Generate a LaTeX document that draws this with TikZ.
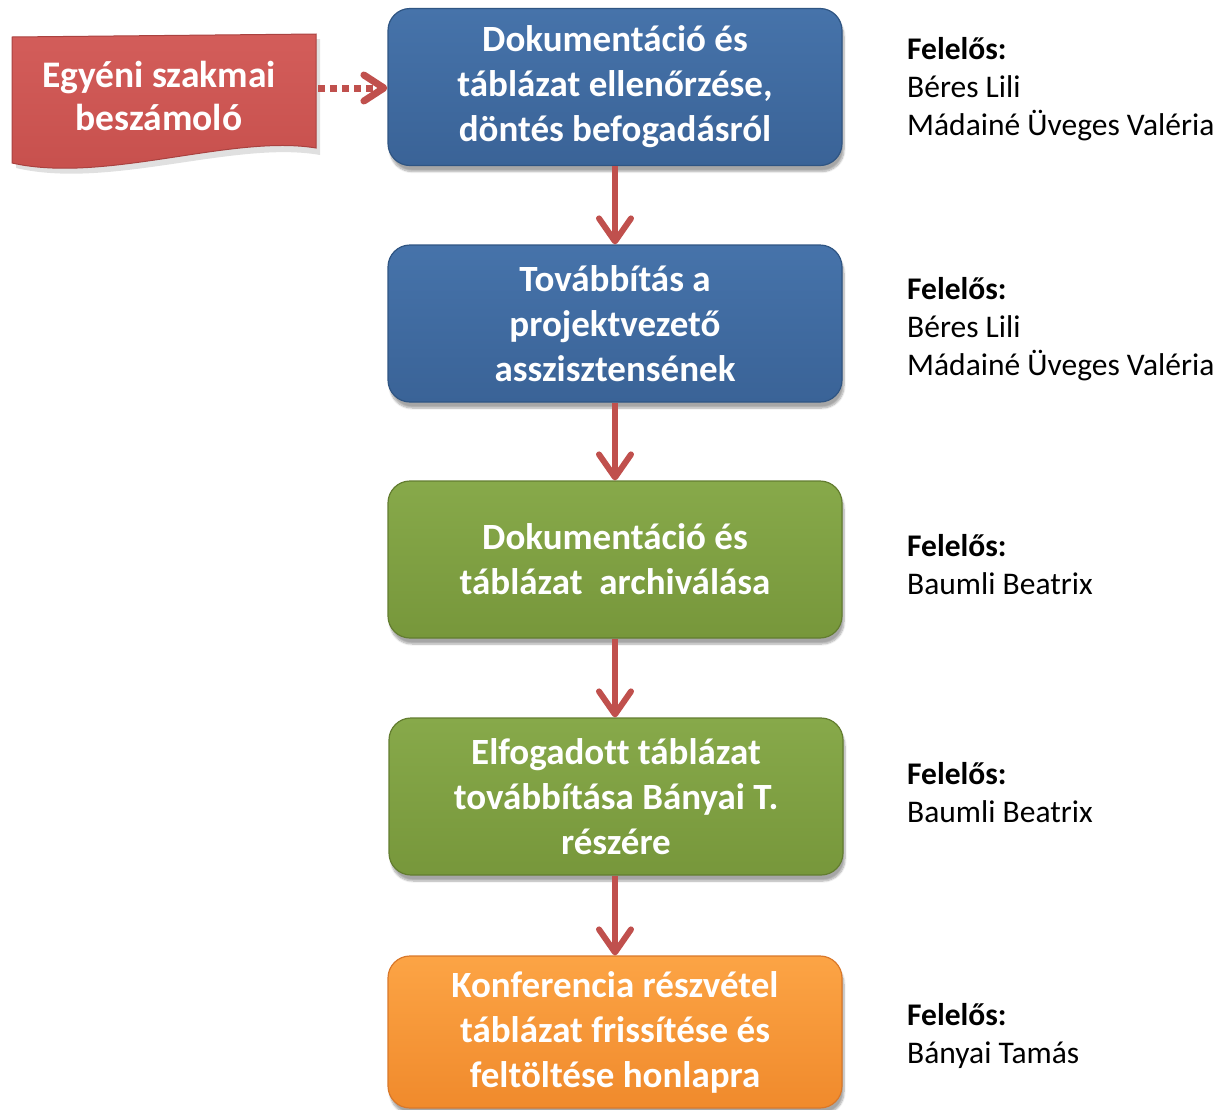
\documentclass[tikz,border=0pt]{standalone}
\usepackage{fontspec}
\setmainfont{Carlito}[Ligatures=CommonOff]
\usetikzlibrary{arrows.meta,shadows,shadows.blur}
\definecolor{blueT}{HTML}{4673AA}
\definecolor{blueB}{HTML}{3A6397}
\definecolor{blueD}{HTML}{2F5583}
\definecolor{greenT}{HTML}{87A94A}
\definecolor{greenB}{HTML}{77973B}
\definecolor{greenD}{HTML}{637D30}
\definecolor{orT}{HTML}{FCA445}
\definecolor{orB}{HTML}{F08A2C}
\definecolor{orD}{HTML}{D9782A}
\definecolor{redT}{HTML}{D35D5A}
\definecolor{redB}{HTML}{C64F4C}
\definecolor{redD}{HTML}{A94240}
\definecolor{arrowred}{HTML}{C0504D}
\tikzset{
  stepbox/.style={rounded corners=22pt, minimum width=454pt, minimum height=157pt,
    align=center, text=white, line width=1.2pt,
    font=\fontsize{37}{45}\selectfont\bfseries,
    execute at begin node={\rule{0pt}{35pt}},
    blur shadow={shadow xshift=2pt, shadow yshift=-6pt, shadow blur steps=8, shadow opacity=35}},
  bluebox/.style={stepbox, draw=blueD, top color=blueT, bottom color=blueB},
  greenbox/.style={stepbox, draw=greenD, top color=greenT, bottom color=greenB},
  orangebox/.style={stepbox, draw=orD, top color=orT, bottom color=orB},
  resp/.style={anchor=north west, align=left, inner sep=0pt, font=\fontsize{31.5}{38}\selectfont},
  flow/.style={draw=arrowred, line width=6pt, -{Straight Barb[length=23pt,width=32pt,round]}},
  dotflow/.style={draw=arrowred, line width=7pt, dash pattern=on 7pt off 5pt,
    -{Straight Barb[length=20pt,width=26pt,round]}},
}
\begin{document}
\begin{tikzpicture}[x=1pt,y=-1pt]
\useasboundingbox (0,0) rectangle (1221,1109);
% process boxes
\node[bluebox]   (b1) at (615,87)   {Dokumentáció és\\táblázat ellenőrzése,\\döntés befogadásról};
\node[bluebox]   (b2) at (615,323.5) {Továbbítás a\\projektvezető\\asszisztensének};
\node[greenbox]  (b3) at (615,559.5) {Dokumentáció és\\táblázat\ \ archiválása};
\node[greenbox]  (b4) at (616,796.5) {Elfogadott táblázat\\továbbítása Bányai T.\\részére};
\node[orangebox, minimum height=152pt] (b5) at (615,1032) {Konferencia részvétel\\táblázat frissítése és\\feltöltése honlapra};
% document shape
\fill[black, opacity=0.12] (16,42) -- (320,39) -- (320,155) .. controls (235,140) and (110,190) .. (16,168) -- cycle;
\shade[top color=redT, bottom color=redB, draw=redD, line width=1pt]
  (12,37) -- (316,34) -- (316,148) .. controls (232,134) and (105,184) .. (12,163) -- cycle;
\node[align=center, text=white, font=\fontsize{37.5}{43}\selectfont\bfseries] (e) at (159,96) {Egyéni szakmai\\beszámoló};
\coordinate (eout) at (318,88);
% connectors
\draw[dotflow] (eout) -- (b1.west |- eout);
\draw[flow] (b1.south) -- (b2.north);
\draw[flow] (b2.south) -- (b3.north);
\draw[flow] (b3.south) -- (b3.south |- b4.north);
\draw[flow] (b4.south -| b3.south) -- (b5.north);
% responsibles
\node[resp] (r1) at (907,37) {\textbf{Felelős:}\\Béres Lili\\Mádainé Üveges Valéria};
\node[resp] (r2) at (907,277) {\textbf{Felelős:}\\Béres Lili\\Mádainé Üveges Valéria};
\node[resp] (r3) at (907,534) {\textbf{Felelős:}\\Baumli Beatrix};
\node[resp] (r4) at (907,762) {\textbf{Felelős:}\\Baumli Beatrix};
\node[resp] (r5) at (907,1003) {\textbf{Felelős:}\\Bányai Tamás};
\end{tikzpicture}
\end{document}
